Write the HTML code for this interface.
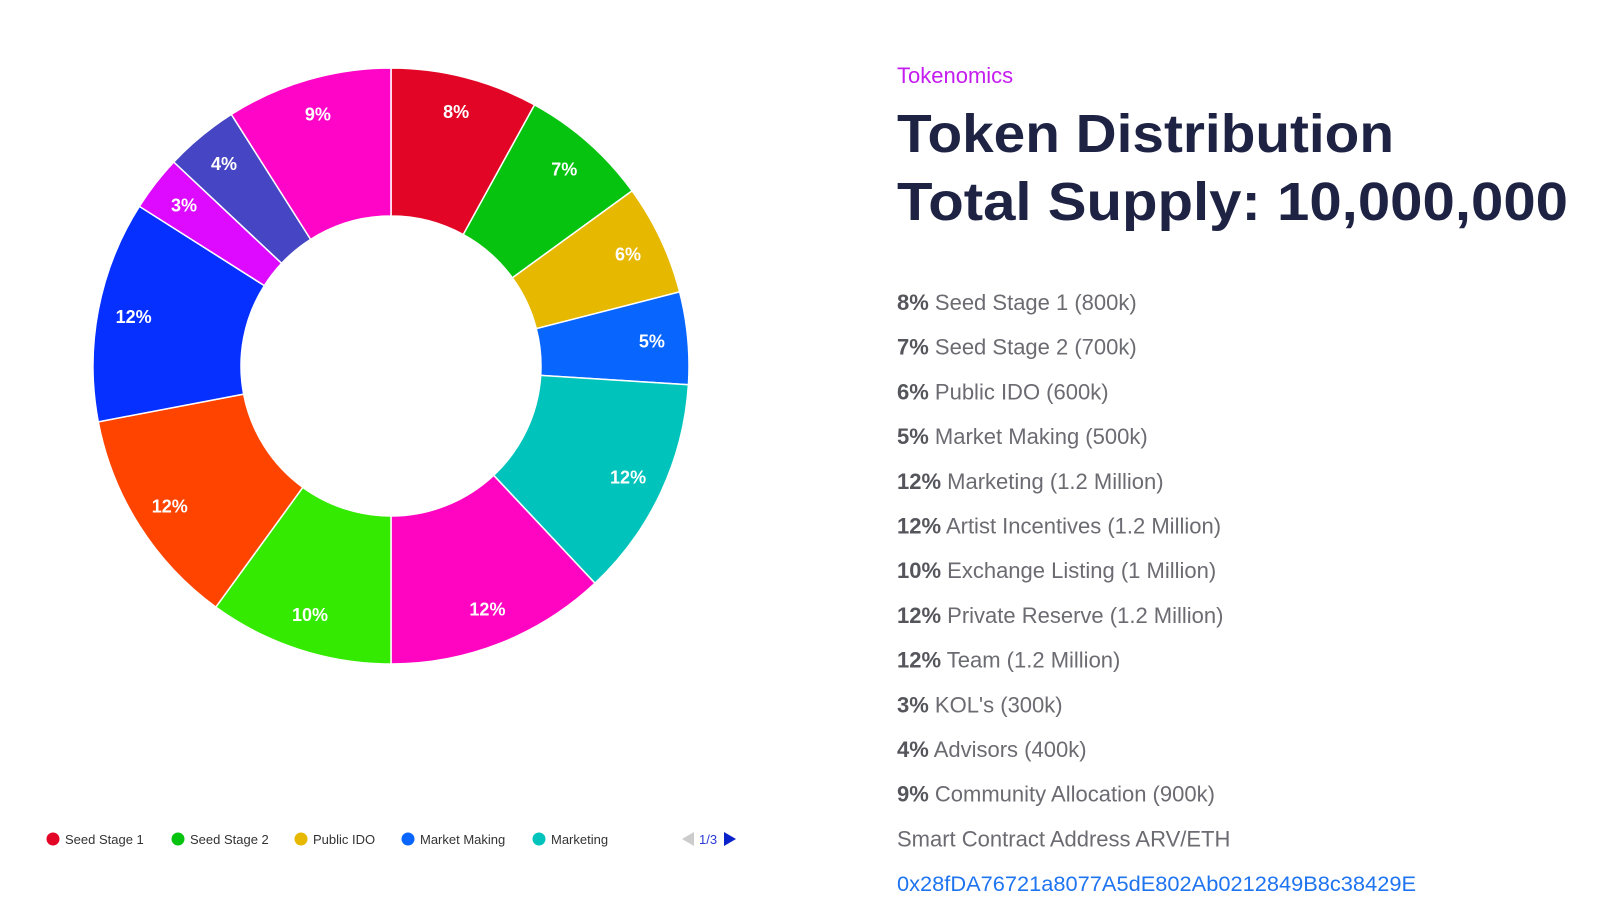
<!DOCTYPE html>
<html><head><meta charset="utf-8"><style>
html,body{margin:0;padding:0;background:#fff;width:1600px;height:912px;overflow:hidden}
svg{display:block}
</style></head><body>
<svg id="svg" width="1600" height="912" viewBox="0 0 1600 912" xmlns="http://www.w3.org/2000/svg">
<g id="donut"></g>
<g id="legend"></g>
<g>
<polygon points="694,832 682,839 694,846" fill="#ccc"/>
<text x="699" y="844" font-family="Liberation Sans, sans-serif" font-size="13" fill="#2a3bd6">1/3</text>
<polygon points="724,832 736,839 724,846" fill="#0a22c9"/>
</g>
<g font-family="Liberation Sans, sans-serif">
<text x="897" y="83" font-size="22" fill="#c41df0">Tokenomics</text>
<text x="897" y="152" font-size="54" font-weight="bold" fill="#1e2344" textLength="497" lengthAdjust="spacingAndGlyphs">Token Distribution</text>
<text x="897" y="220" font-size="54" font-weight="bold" fill="#1e2344" textLength="671" lengthAdjust="spacingAndGlyphs">Total Supply: 10,000,000</text>
<g id="list"></g>
</g>
</svg>
<script>
const labels=["Seed Stage 1","Seed Stage 2","Public IDO","Market Making","Marketing","Artist Incentives","Exchange Listing","Private Reserve","Team","KOL's","Advisors","Community Allocation"];
const values=[8,7,6,5,12,12,10,12,12,3,4,9];
const amounts=["800k","700k","600k","500k","1.2 Million","1.2 Million","1 Million","1.2 Million","1.2 Million","300k","400k","900k"];
const colors=["#e30525","#06c310","#e6b800","#0866ff","#00c4bb","#ff05c1","#33ea00","#ff4400","#0530ff","#de0aff","#4646c4","#ff05c8"];
const NS="http://www.w3.org/2000/svg";
const cx=391,cy=366,R=298,r=150,LR=262;
const total=values.reduce((a,b)=>a+b,0);
const donut=document.getElementById('donut');
function pt(rad,a){return [cx+rad*Math.sin(a),cy-rad*Math.cos(a)];}
let acc=0;
values.forEach((v,i)=>{
  const a0=acc/total*2*Math.PI, a1=(acc+v)/total*2*Math.PI; acc+=v;
  const large=(a1-a0)>Math.PI?1:0;
  const p0=pt(R,a0),p1=pt(R,a1),q1=pt(r,a1),q0=pt(r,a0);
  const p=document.createElementNS(NS,'path');
  p.setAttribute('d',`M${p0[0]},${p0[1]} A${R},${R} 0 ${large} 1 ${p1[0]},${p1[1]} L${q1[0]},${q1[1]} A${r},${r} 0 ${large} 0 ${q0[0]},${q0[1]} Z`);
  p.setAttribute('fill',colors[i]);p.setAttribute('stroke','#fff');p.setAttribute('stroke-width','1.5');
  
  
  donut.appendChild(p);
  const m=pt(LR,(a0+a1)/2);
  const t=document.createElementNS(NS,'text');
  t.setAttribute('x',m[0]);t.setAttribute('y',m[1]+6);t.setAttribute('text-anchor','middle');
  t.setAttribute('font-family','Liberation Sans, sans-serif');t.setAttribute('font-size','18');t.setAttribute('font-weight','bold');t.setAttribute('fill','#fff');
  t.textContent=v+'%';
  
  
  donut.appendChild(t);
});
const lg=document.getElementById('legend');
const lx=[53,178,301,408,539];
for(let i=0;i<5;i++){
  const g=document.createElementNS(NS,'g');
  
  
  const c=document.createElementNS(NS,'circle');
  c.setAttribute('cx',lx[i]);c.setAttribute('cy',839);c.setAttribute('r',6.5);c.setAttribute('fill',colors[i]);
  const t=document.createElementNS(NS,'text');
  t.setAttribute('x',lx[i]+12);t.setAttribute('y',844);t.setAttribute('font-family','Liberation Sans, sans-serif');t.setAttribute('font-size','13');t.setAttribute('fill','#333');
  t.textContent=labels[i];
  g.appendChild(c);g.appendChild(t);lg.appendChild(g);
}
const list=document.getElementById('list');
const y0=310,dy=44.7;
labels.forEach((l,i)=>{
  const t=document.createElementNS(NS,'text');
  t.setAttribute('x',897);t.setAttribute('y',y0+dy*i);t.setAttribute('font-size','22');t.setAttribute('fill','#6b6b72');
  t.innerHTML=`<tspan font-weight="bold" fill="#55555c">${values[i]}%</tspan> ${l} (${amounts[i]})`;
  
  
  list.appendChild(t);
});
const sc=document.createElementNS(NS,'text');
sc.setAttribute('x',897);sc.setAttribute('y',y0+dy*12);sc.setAttribute('font-size','22');sc.setAttribute('fill','#6b6b72');
sc.textContent='Smart Contract Address ARV/ETH';


list.appendChild(sc);
const ad=document.createElementNS(NS,'text');
ad.setAttribute('x',897);ad.setAttribute('y',y0+dy*13);ad.setAttribute('font-size','21');ad.setAttribute('fill','#1f74f0');
ad.setAttribute('textLength','519');ad.setAttribute('lengthAdjust','spacingAndGlyphs');
ad.textContent='0x28fDA76721a8077A5dE802Ab0212849B8c38429E';


list.appendChild(ad);
</script>
</body></html>
